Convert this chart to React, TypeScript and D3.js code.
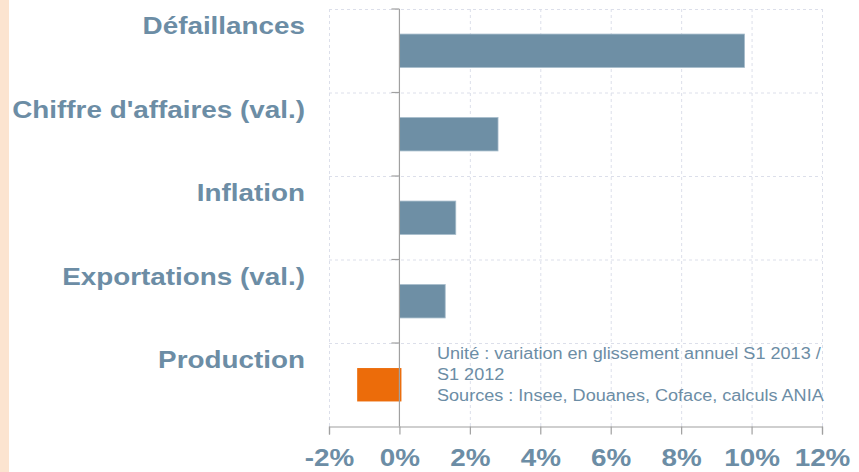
import React, { useEffect, useRef } from 'react';
import * as d3 from 'd3';

const categories = ["Défaillances", "Chiffre d'affaires (val.)", "Inflation", "Exportations (val.)", "Production"];
const values = [9.8, 2.8, 1.6, 1.3, -1.2];
const tickValues = [-2, 0, 2, 4, 6, 8, 10, 12];
const noteLines = [
    "Unité : variation en glissement annuel S1 2013 /",
    "S1 2012",
    "Sources : Insee, Douanes, Coface, calculs ANIA",
];

const width = 859;
const height = 472;
const margin = {top: 9, left: 329, bottom: 45.5, right: 37};
const textColor = "#6c8da5";
const barColor = "#6e8fa5";
const negColor = "#ec6c0a";
const gridColor = "#dcdfea";
const axisColor = "#a0a0a0";
const stretch = 1.16;

const App = () => {
    const ref = useRef(null);

    useEffect(() => {
        document.body.style.margin = "0";
        const svg = d3.select(ref.current);
        svg.selectAll("*").remove();

        const x = d3.scaleLinear()
            .domain([-2, 12])
            .range([margin.left, width - margin.right]);

        const yGrid = d3.scaleBand()
            .domain(categories)
            .range([margin.top, height - margin.bottom])
            .padding(0);

        const y = d3.scaleBand()
            .domain(categories)
            .range([margin.top, height - margin.bottom])
            .paddingInner(0.6)
            .paddingOuter(0.3);

        const bottom = height - margin.bottom;

        // peach strip on the left
        svg.append("rect")
            .attr("x", 0).attr("y", 0)
            .attr("width", 9).attr("height", height)
            .attr("fill", "#fce4d0");

        // grid
        const grid = svg.append("g")
            .attr("stroke", gridColor)
            .attr("stroke-width", 1)
            .attr("stroke-dasharray", "3,3");
        grid.selectAll("line.v")
            .data(tickValues.filter(d => d !== 0))
            .join("line")
            .attr("class", "v")
            .attr("x1", d => x(d) + 0.5).attr("x2", d => x(d) + 0.5)
            .attr("y1", margin.top).attr("y2", bottom);
        grid.selectAll("line.h")
            .data(categories)
            .join("line")
            .attr("class", "h")
            .attr("x1", margin.left).attr("x2", width - margin.right)
            .attr("y1", d => yGrid(d) + 0.5).attr("y2", d => yGrid(d) + 0.5);

        // bars
        svg.append("g")
            .selectAll("rect")
            .data(values)
            .join("rect")
            .attr("x", d => x(Math.min(0, d)))
            .attr("y", (d, i) => y(categories[i]))
            .attr("width", d => Math.abs(x(d) - x(0)) + (d < 0 ? 2 : 0))
            .attr("height", y.bandwidth())
            .attr("fill", d => d < 0 ? negColor : barColor)
            .attr("stroke", d => d < 0 ? "none" : "#a6bccb")
            .attr("stroke-width", 0.8);

        // zero axis with ticks at band edges
        const yAxis = svg.append("g").attr("stroke", axisColor).attr("stroke-width", 1.2);
        yAxis.append("line")
            .attr("x1", x(0)).attr("x2", x(0))
            .attr("y1", margin.top).attr("y2", bottom);
        yAxis.selectAll("line.t")
            .data(categories)
            .join("line")
            .attr("class", "t")
            .attr("x1", x(0) - 8).attr("x2", x(0))
            .attr("y1", d => yGrid(d)).attr("y2", d => yGrid(d));

        // bottom axis
        svg.append("g")
            .attr("transform", `translate(0,${bottom})`)
            .call(d3.axisBottom(x).tickValues(tickValues).tickSize(8).tickFormat(d => `${d}%`))
            .call(g => g.selectAll("path.domain").attr("stroke", axisColor).attr("stroke-width", 1.2))
            .call(g => g.selectAll(".tick line").attr("stroke", axisColor).attr("stroke-width", 1.2))
            .call(g => g.selectAll(".tick text")
                .attr("y", 0).attr("dy", 0)
                .attr("transform", `translate(0,${height - 6.5 - bottom}) scale(${stretch},1)`)
                .attr("fill", textColor)
                .attr("font-family", "Liberation Sans, Arial, sans-serif")
                .attr("font-size", 24)
                .attr("font-weight", "bold"));

        // category labels
        svg.append("g")
            .selectAll("text")
            .data(categories)
            .join("text")
            .attr("transform", d => `translate(305,${yGrid(d) + 25}) scale(${stretch},1)`)
            .attr("text-anchor", "end")
            .attr("fill", textColor)
            .attr("font-family", "Liberation Sans, Arial, sans-serif")
            .attr("font-size", 24)
            .attr("font-weight", "bold")
            .text(d => d);

        // note
        svg.append("g")
            .selectAll("text")
            .data(noteLines)
            .join("text")
            .attr("transform", (d, i) => `translate(437,${359 + i * 21}) scale(1.13,1)`)
            .attr("fill", textColor)
            .attr("font-family", "Liberation Sans, Arial, sans-serif")
            .attr("font-size", 16)
            .text(d => d);
    }, []);

    return (
        <svg ref={ref} width={width} height={height} style={{display: "block", background: "#fff"}}></svg>
    );
};

export default App;
